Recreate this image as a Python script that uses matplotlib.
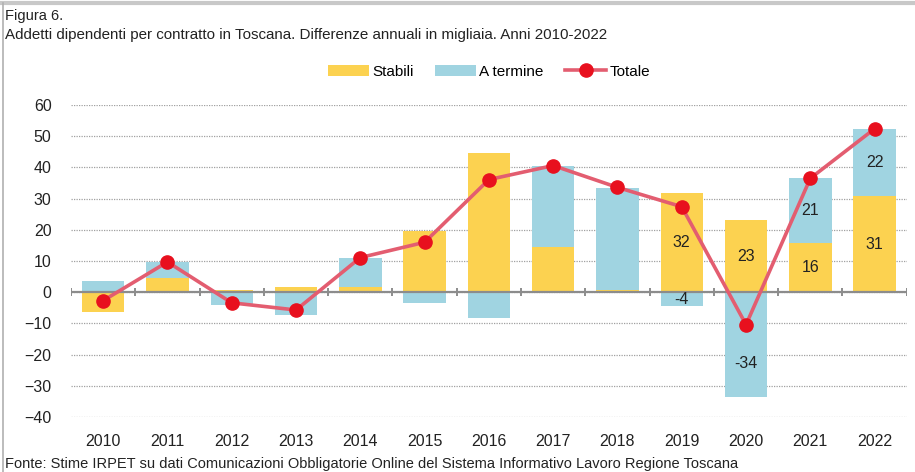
import matplotlib.pyplot as plt
import numpy as np
from matplotlib.lines import Line2D

plt.rcParams['font.family'] = ['Liberation Sans', 'DejaVu Sans']

years = ['2010', '2011', '2012', '2013', '2014', '2015', '2016',
         '2017', '2018', '2019', '2020', '2021', '2022']
stabili = [-6.4, 4.5, 0.7, 1.7, 1.7, 19.6, 44.6, 14.4, 0.7, 31.8, 23.2, 15.8, 30.7]
termine = [3.7, 5.1, -4.2, -7.4, 9.3, -3.5, -8.4, 26.1, 32.8, -4.4, -33.7, 20.7, 21.7]
totale = [-2.7, 9.7, -3.4, -5.7, 11.1, 16.0, 36.1, 40.6, 33.6, 27.4, -10.4, 36.5, 52.4]

# value labels shown only on the last years: (year index, series, text, position in segment)
labels = [(9, 's', '32', 0.5), (9, 't', '-4', 0.5),
          (10, 's', '23', 0.5), (10, 't', '-34', 0.68),
          (11, 's', '16', 0.5), (11, 't', '21', 0.5),
          (12, 's', '31', 0.5), (12, 't', '22', 0.5)]

c_stab = '#fcd250'
c_term = '#a0d4e1'
c_line = '#e35d70'
c_mark = '#e8101e'

fig = plt.figure(figsize=(9.15, 4.72), dpi=100)
ax = fig.add_axes([0.0776, 0.1165, 0.9134, 0.661])

x = np.arange(len(years))
stab = np.array(stabili)
term = np.array(termine)
# stack the blue part on the yellow one when they share a sign
base_t = np.where(np.sign(term) == np.sign(stab), stab, 0)

b1 = ax.bar(x, stab, width=0.66, color=c_stab, label='Stabili', zorder=2)
b2 = ax.bar(x, term, bottom=base_t, width=0.66, color=c_term, label='A termine', zorder=2)
l1, = ax.plot(x, totale, color=c_line, lw=2.6, marker='o', markersize=9.5,
              markerfacecolor=c_mark, markeredgecolor=c_mark, label='Totale', zorder=4)

for i, ser, txt, f in labels:
    if ser == 's':
        y = stab[i] * f
    else:
        y = base_t[i] + term[i] * f
    ax.text(i, y, txt, ha='center', va='center', fontsize=11.5, color='#222222', zorder=5)

ax.set_xlim(-0.5, len(years) - 0.5)
ax.set_ylim(-40, 60)
ax.set_yticks(np.arange(-40, 61, 10))
ax.set_xticks(x)
ax.set_xticklabels(years)
ax.tick_params(axis='both', length=0, labelsize=11.5, colors='#222222')
ax.tick_params(axis='x', pad=12)
ax.tick_params(axis='y', pad=14)
ax.grid(axis='y', linestyle=(0, (1, 1)), color='#a0a0a0', lw=0.9, zorder=0)
for s in ax.spines.values():
    s.set_visible(False)

# zero line with small ticks between categories
ax.axhline(0, color='#8c8c8c', lw=1.6, zorder=3)
ax.vlines(np.arange(-0.5, len(years), 1.0), -1.3, 1.3, color='#8c8c8c', lw=1.4, zorder=3)

ax.legend([b1, b2, l1], ['Stabili', 'A termine', 'Totale'],
          loc='lower center', bbox_to_anchor=(0.5, 1.04), ncol=3, frameon=False,
          fontsize=11, handlelength=2.7, handletextpad=0.2, columnspacing=1.4)

fig.text(0.006, 0.958, 'Figura 6.', fontsize=10.5, color='#222222')
fig.text(0.006, 0.918, 'Addetti dipendenti per contratto in Toscana. Differenze annuali in migliaia. Anni 2010-2022',
         fontsize=10.9, color='#222222')
fig.text(0.006, 0.008, 'Fonte: Stime IRPET su dati Comunicazioni Obbligatorie Online del Sistema Informativo Lavoro Regione Toscana',
         fontsize=10.5, color='#222222')

fig.add_artist(Line2D([0.002, 1], [0.994, 0.994], color='#c8c8c8', lw=3))
fig.add_artist(Line2D([0.003, 0.003], [0, 0.994], color='#b0b0b0', lw=1.2))

fig.savefig('out.png', dpi=100)
